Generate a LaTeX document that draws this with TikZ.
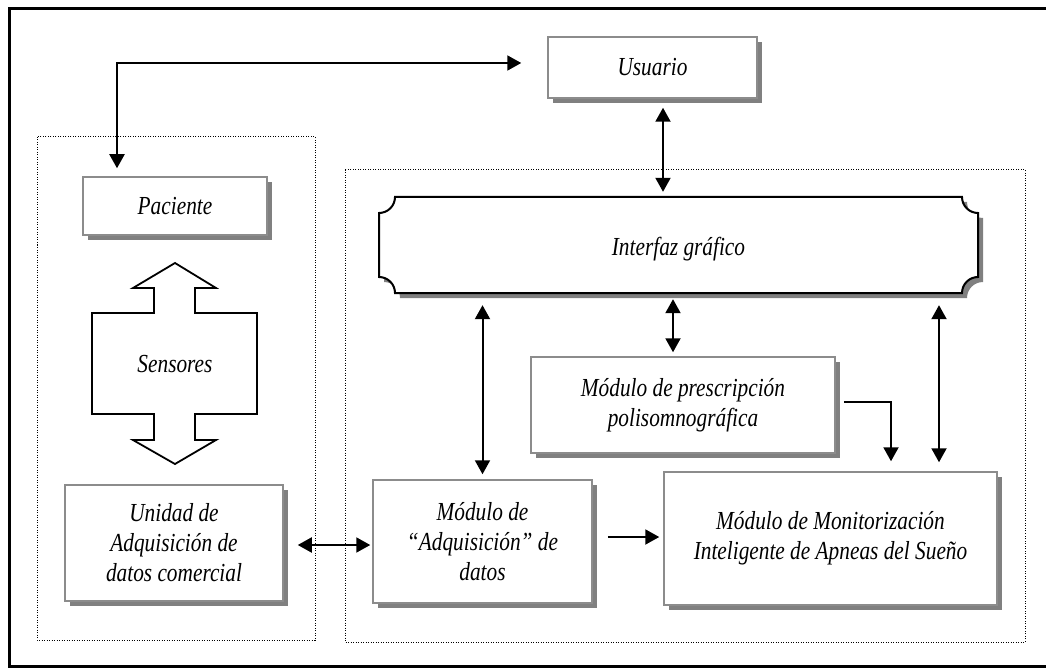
\documentclass[tikz,border=0pt]{standalone}
\usepackage{fontspec}
\setmainfont{Liberation Serif}[FakeStretch=0.82]
\usetikzlibrary{arrows.meta,shadows,calc}

\definecolor{shadowgray}{RGB}{128,128,128}
\definecolor{boxedge}{RGB}{140,140,140}

\begin{document}
\begin{tikzpicture}[x=1pt,y=-1pt,
  lbl/.style={font=\fontsize{26}{30}\selectfont\itshape, align=center},
  shbox/.style={lbl, draw=boxedge, line width=1.5pt, fill=white, inner sep=0pt,
    drop shadow={shadow xshift=5pt, shadow yshift=-5pt, fill=shadowgray, opacity=1}},
  dbl/.style={{Triangle[width=15pt,length=14pt]}-{Triangle[width=15pt,length=14pt]}, line width=2pt},
  sgl/.style={-{Triangle[width=15pt,length=14pt]}, line width=2pt},
  dotbox/.style={line width=1pt, dash pattern=on 1pt off 1.5pt},
  plaque/.style={line width=2pt, line join=miter}]

\useasboundingbox (0,0) rectangle (1046,668);
\clip (0,0) rectangle (1046,668);

% outer frame
\draw[line width=3pt] (9,8.3) rectangle (1060,666.8);

% dotted groups
\draw[dotbox] (37,137) rectangle (315,640);
\draw[dotbox] (345,170) rectangle (1025,642);

% plain boxes with shadows
\node[shbox, minimum width=184pt, minimum height=58pt] (paciente) at (175,206) {Paciente};
\node[shbox, minimum width=209pt, minimum height=61pt] (usuario) at (652.5,67.5) {Usuario};
\node[shbox, minimum width=218pt, minimum height=116pt] (unidad) at (174,543) {Unidad de\\Adquisición de\\datos comercial};
\node[shbox, minimum width=219pt, minimum height=123pt] (adq) at (482.5,541.5) {Módulo de\\“Adquisición” de\\datos};
\node[shbox, minimum width=304pt, minimum height=96pt] (presc) at (683,405) {Módulo de prescripción\\polisomnográfica};
\node[shbox, minimum width=333pt, minimum height=133pt] (monit) at (830.5,538.5) {Módulo de Monitorización\\Inteligente de Apneas del Sueño};

% graphical interface: plaque outline with concave corners
\begin{scope}[shift={(5,5)}]
  \fill[shadowgray] (395,197) -- (962,197) arc[start angle=180,end angle=270,radius=16pt]
    -- (978,277) arc[start angle=90,end angle=180,radius=16pt]
    -- (395,293) arc[start angle=0,end angle=90,radius=16pt]
    -- (379,213) arc[start angle=270,end angle=360,radius=16pt] -- cycle;
\end{scope}
\draw[plaque, fill=white] (395,197) -- (962,197) arc[start angle=180,end angle=270,radius=16pt]
    -- (978,277) arc[start angle=90,end angle=180,radius=16pt]
    -- (395,293) arc[start angle=0,end angle=90,radius=16pt]
    -- (379,213) arc[start angle=270,end angle=360,radius=16pt] -- cycle;
\node[lbl, minimum width=599pt, minimum height=96pt, inner sep=0pt] (interfaz) at (678.5,249) {Interfaz gráfico};

% sensors: block double arrow
\draw[line width=1.8pt, line join=miter, fill=white]
  (175,263) -- (216,288) -- (195,288) -- (195,313) -- (257,313) -- (257,414)
  -- (195,414) -- (195,440) -- (216,440) -- (175,464) -- (133,440) -- (154,440)
  -- (154,414) -- (92,414) -- (92,313) -- (154,313) -- (154,288) -- (133,288) -- cycle;
\node[lbl] (sensores) at (175,364) {Sensores};

% connectors
\draw[dbl] ([xshift=-58pt,yshift=8pt]paciente.north) |- ([xshift=-26pt,yshift=4.5pt]usuario.west);
\draw[dbl, shorten >=5pt] ([xshift=10.5pt,yshift=-9pt]usuario.south) -- ([xshift=10.5pt,yshift=4pt]usuario.south |- interfaz.north);
\draw[dbl, shorten <=12pt, shorten >=5pt] ([yshift=4pt]adq.north |- interfaz.south) -- (adq.north);
\draw[dbl, shorten <=6pt, shorten >=4pt] ([xshift=-10pt,yshift=4pt]presc.north |- interfaz.south) -- ([xshift=-10pt]presc.north);
\draw[dbl, shorten <=12pt, shorten >=9pt] ([xshift=108.5pt,yshift=4pt]monit.north |- interfaz.south) -- ([xshift=108.5pt]monit.north);
\draw[sgl] ([xshift=8pt,yshift=3pt]presc.east) -| ([xshift=60.5pt,yshift=10pt]monit.north);
\draw[sgl] ([xshift=15pt,yshift=4.5pt]adq.east) -- ([xshift=-4pt,yshift=4.5pt]adq.east -| monit.west);
\draw[dbl] ([xshift=14pt,yshift=-2pt]unidad.east) -- ([xshift=-2pt,yshift=-2pt]unidad.east -| adq.west);

\end{tikzpicture}
\end{document}
